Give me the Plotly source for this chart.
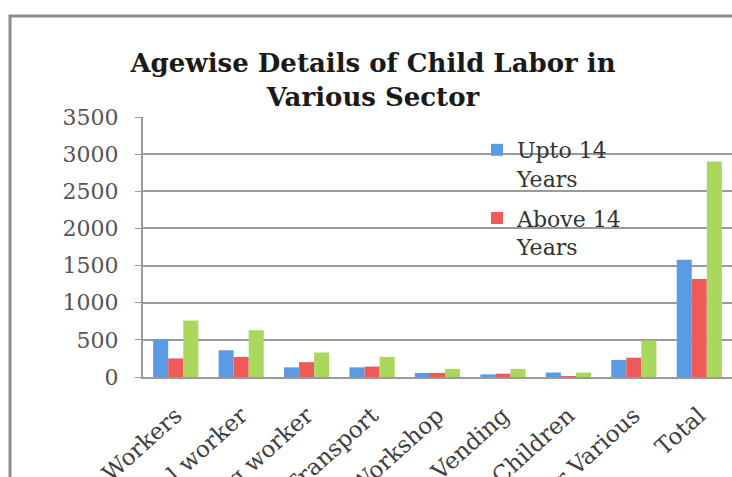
import plotly.graph_objects as go

categories = ["Domestic Workers", "Industrial worker", "Ragpicking worker", "In Transport",
              "In Workshop", "Street Vending", "Street Children", "Other Various", "Total"]
upto14 = [510, 360, 130, 130, 55, 35, 60, 230, 1580]
above14 = [250, 270, 200, 140, 55, 45, 10, 260, 1320]
total = [760, 630, 330, 270, 110, 110, 60, 490, 2900]
series_names = ["Upto 14<br>Years", "Above 14<br>Years", "Total"]
yticks = [0, 500, 1000, 1500, 2000, 2500, 3000, 3500]

FONT = "DejaVu Serif"
TFONT = "DejaVu Serif"
W, H = 732, 477
L, R, T, B = 143, 732, 117, 377

fig = go.Figure()
fig.add_trace(go.Bar(x=categories, y=upto14, name=series_names[0], marker_color="#5B9BE3",
                     marker_line_width=0, legendgroup="a"))
fig.add_trace(go.Bar(x=categories, y=above14, name=series_names[1], marker_color="#EE5A57",
                     marker_line_width=0, legendgroup="b"))
fig.add_trace(go.Bar(x=categories, y=total, name=series_names[2], marker_color="#A9D85C",
                     marker_line_width=0, showlegend=False, legendgroup="c"))

pw, ph = R - L, B - T
def px(x):
    return (x - L) / pw
def py(y):
    return (B - y) / ph

fig.add_shape(type="rect", xref="paper", yref="paper",
              x0=px(10), x1=px(760), y0=py(520), y1=py(16),
              line=dict(color="#8c8c8c", width=3), fillcolor="rgba(0,0,0,0)", layer="below")

fig.update_layout(
    width=W, height=H,
    margin=dict(l=L, r=W - R, t=T, b=H - B, autoexpand=False),
    paper_bgcolor="white", plot_bgcolor="white",
    barmode="group", bargap=0.31, bargroupgap=0,
    title=dict(text="<b>Agewise Details of Child Labor in<br>Various Sector</b>",
               x=(373) / W, xanchor="center", y=1 - 72 / H, yanchor="top",
               font=dict(family=TFONT, size=26, color="#1a1a1a")),
    font=dict(family=FONT, color="#404040"),
    legend=dict(x=px(477), y=py(129), xanchor="left", yanchor="top",
                bgcolor="rgba(0,0,0,0)", font=dict(family=FONT, size=22, color="#333333"),
                valign="top", tracegroupgap=8, itemwidth=30),
    showlegend=True,
)
fig.update_yaxes(range=[0, 3500], tickvals=yticks, showgrid=True, gridcolor="#9a9a9a", gridwidth=2,
                 showline=True, linecolor="#9a9a9a", linewidth=2, ticks="outside", ticklen=6,
                 tickcolor="#9a9a9a", tickfont=dict(family=FONT, size=22, color="#555555"),
                 ticklabelstandoff=12, zeroline=False, fixedrange=True)
fig.update_xaxes(showline=True, linecolor="#9a9a9a", linewidth=2, tickangle=-42,
                 tickfont=dict(family=FONT, size=23, color="#404040"), ticks="",
                 ticklabelstandoff=14, fixedrange=True)

fig.write_html("out.html")
